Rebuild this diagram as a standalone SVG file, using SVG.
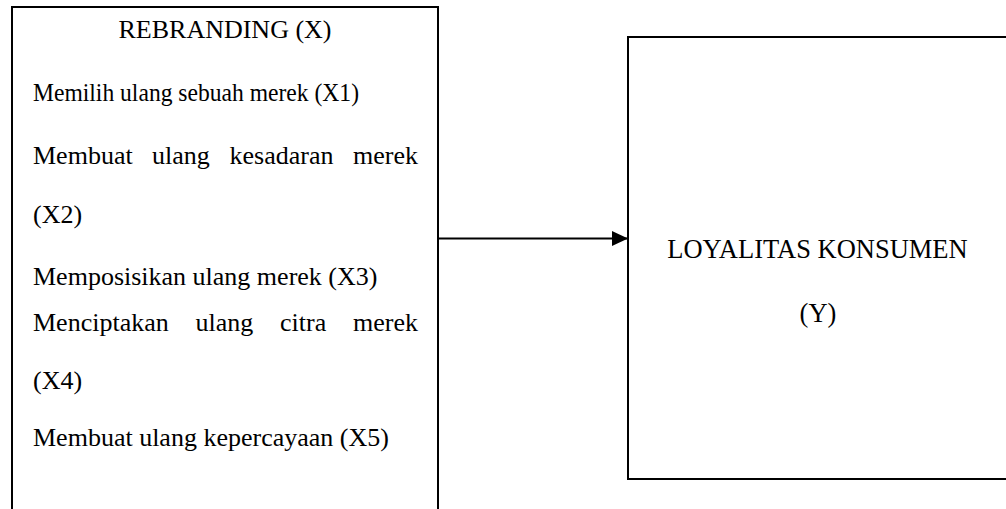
<svg xmlns="http://www.w3.org/2000/svg" width="1006" height="509" viewBox="0 0 1006 509">
<style>
.box{fill:#fff;stroke:#000;stroke-width:2}
.t{font-family:"Liberation Serif","Times New Roman",serif;font-size:26px;fill:#000}
.r{font-size:26.5px}
.c{text-anchor:middle}
</style>
<defs>
<marker id="ah" viewBox="0 0 16 15" refX="16" refY="7.5" markerWidth="16" markerHeight="15" markerUnits="userSpaceOnUse" orient="auto">
<path d="M0,0 L16,7.5 L0,15 Z" fill="#000"/>
</marker>
</defs>
<rect width="1006" height="509" fill="#fff"/>
<g id="rebranding">
<rect class="box" x="12" y="7" width="426" height="520"/>
<text class="t c" x="225" y="38">REBRANDING (X)</text>
<text class="t" x="33" y="101" style="font-size:24.5px" textLength="326" lengthAdjust="spacingAndGlyphs">Memilih ulang sebuah merek (X1)</text>
<text class="t" y="164"><tspan x="33">Membuat</tspan><tspan x="152">ulang</tspan><tspan x="229.5">kesadaran</tspan><tspan x="353">merek</tspan></text>
<text class="t" x="33" y="223">(X2)</text>
<text class="t" x="33" y="285">Memposisikan ulang merek (X3)</text>
<text class="t" y="331"><tspan x="33">Menciptakan</tspan><tspan x="195.5">ulang</tspan><tspan x="280">citra</tspan><tspan x="353">merek</tspan></text>
<text class="t" x="33" y="389">(X4)</text>
<text class="t" x="33" y="446">Membuat ulang kepercayaan (X5)</text>
</g>
<g id="loyalitas">
<rect class="box" x="628" y="37" width="400" height="442"/>
<text class="t r c" x="817.5" y="258">LOYALITAS KONSUMEN</text>
<text class="t r c" x="818" y="322">(Y)</text>
</g>
<g id="connectors">
<line x1="438" y1="238.5" x2="628" y2="238.5" stroke="#000" stroke-width="2" marker-end="url(#ah)"/>
</g>
</svg>
